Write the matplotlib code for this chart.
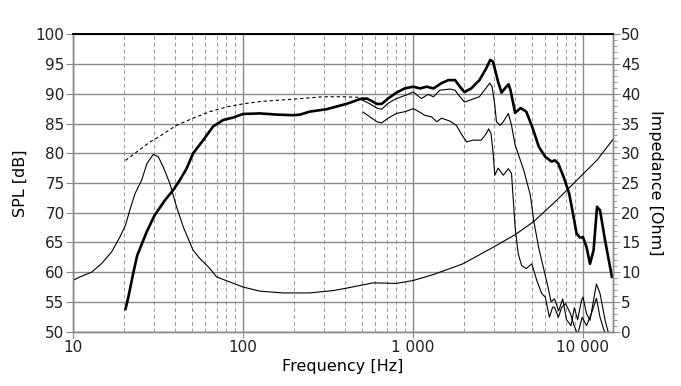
import matplotlib
matplotlib.use("Agg")
import matplotlib.pyplot as plt
from matplotlib.ticker import LogLocator, MultipleLocator, FixedLocator, NullFormatter

# on-axis SPL (thick)
freq_0 = [20.4, 21.2, 22.6, 23.9, 27.1, 30.3, 34.8, 38.9, 42.6, 46.6, 51, 58.4, 66.8, 76.6, 87.7,
          100, 126, 158, 198, 217, 247, 310, 406, 446, 486, 535, 572, 613, 655, 714, 800, 895,
          1005, 1100, 1205, 1320, 1475, 1615, 1770, 1890, 2010, 2200, 2460, 2700, 2850, 2960,
          3170, 3320, 3470, 3650, 3750, 3990, 4300, 4640, 5020, 5500, 6000, 6540, 6830, 7150,
          7700, 8300, 8740, 9170, 9620, 10000, 10500, 11000, 11550, 12100, 12600, 13500, 14800]
spl_0 = [53.8, 55.8, 59.7, 62.8, 66.7, 69.6, 72.1, 73.8, 75.5, 77.4, 80.0, 82.2, 84.5, 85.6, 86.0,
         86.6, 86.7, 86.5, 86.4, 86.5, 87.0, 87.4, 88.3, 88.7, 89.1, 89.2, 88.8, 88.3, 88.3, 89.2,
         90.2, 90.9, 91.2, 90.9, 91.2, 90.9, 91.8, 92.3, 92.3, 91.2, 90.3, 90.9, 92.3, 94.3, 95.7,
         95.4, 92.0, 90.2, 90.9, 91.6, 90.6, 86.8, 87.6, 87.0, 84.5, 81.1, 79.4, 78.6, 78.8, 78.3,
         76.0, 73.2, 69.8, 66.5, 65.8, 65.9, 64.2, 61.4, 63.7, 71.0, 70.4, 65.3, 59.2]

# 30 deg off-axis (thin)
freq_30 = [500, 559, 613, 655, 714, 800, 915, 1005, 1120, 1230, 1320, 1440, 1650, 1770, 1890,
           2010, 2200, 2460, 2680, 2830, 2920, 3030, 3100, 3260, 3400, 3640, 3800, 3990, 4160,
           4500, 4900, 5130, 5500, 5770, 6170, 6500, 6800, 7200, 7600, 8000, 8500, 8900, 9300,
           9800, 10000, 10500, 11000, 12000, 12600, 13500, 14200]
spl_30 = [89.0, 88.3, 87.6, 87.4, 88.4, 89.2, 89.8, 90.3, 89.2, 89.9, 89.5, 90.6, 90.8, 90.6, 89.5,
          88.6, 89.0, 89.5, 90.9, 91.8, 91.2, 88.1, 85.3, 84.7, 85.3, 86.7, 84.7, 81.4, 79.9,
          77.0, 73.0, 68.7, 64.0, 61.5, 58.0, 55.0, 55.5, 53.5, 55.5, 52.0, 51.0, 54.0, 52.0,
          55.2, 55.8, 53.0, 51.9, 58.0, 56.4, 51.9, 49.5]

# 60 deg off-axis (thin)
freq_60 = [510, 560, 613, 655, 714, 800, 900, 1005, 1100, 1170, 1290, 1380, 1475, 1650, 1800,
           1940, 2070, 2250, 2520, 2700, 2790, 2880, 2960, 3030, 3170, 3400, 3640, 3800, 3990,
           4160, 4360, 4640, 5000, 5350, 5720, 6000, 6350, 6630, 6800, 7170, 7500, 7900, 8450,
           8800, 9300, 9900, 10500, 11200, 12000, 12600, 13300, 14000]
spl_60 = [86.9, 86.1, 85.3, 85.1, 85.9, 86.7, 87.0, 87.5, 86.9, 86.4, 86.1, 85.3, 85.9, 85.4, 84.7,
          83.1, 81.9, 82.2, 82.2, 83.3, 84.1, 83.3, 80.2, 76.3, 77.5, 76.3, 77.4, 76.6, 67.6,
          63.1, 61.1, 60.6, 61.4, 58.6, 56.4, 55.8, 52.4, 54.1, 54.1, 52.4, 54.1, 54.7, 53.0,
          51.3, 49.5, 52.4, 51.0, 53.0, 55.6, 52.4, 50.2, 49.0]

# simulated low-frequency response (dashed)
freq_sim = [20.4, 23.7, 28.4, 31, 40.7, 51, 64, 80.3, 100, 126, 198, 295, 390, 486, 520]
spl_sim = [78.8, 80.2, 81.9, 82.5, 84.7, 85.9, 87.0, 87.8, 88.3, 88.7, 89.1, 89.5, 89.5, 89.4, 89.2]

# impedance (right axis)
freq_z = [10, 11, 12.9, 14.7, 16.9, 18.9, 20.4, 21.6, 23.2, 25.4, 27.3, 29.7, 31.8, 34, 37.2,
          40.7, 44.6, 50.9, 55.8, 64, 70, 100, 126, 172, 247, 340, 406, 585, 800, 1005, 1320,
          1970, 2970, 3990, 5130, 7010, 9230, 12060, 15000]
ohm = [8.6, 9.2, 10.0, 11.4, 13.4, 15.9, 17.9, 20.4, 23.2, 25.5, 28.3, 29.8, 29.4, 27.7, 24.9,
       21.0, 17.6, 13.7, 12.3, 10.6, 9.2, 7.5, 6.8, 6.5, 6.5, 6.9, 7.3, 8.2, 8.1, 8.6, 9.6,
       11.4, 14.2, 16.3, 18.5, 22.1, 25.5, 28.8, 32.3]

x_ticks = [10, 100, 1000, 10000]
x_labels = ["10", "100", "1 000", "10 000"]
thick_grid = [3000, 5000, 6000, 7000, 8000, 9000]

GRID = "#8a8a8a"
TXT = "#202020"

plt.rcParams["font.family"] = "DejaVu Sans"

fig = plt.figure(figsize=(6.81, 3.86), dpi=100)
ax = fig.add_axes([0.107, 0.141, 0.793, 0.770])
ax2 = ax.twinx()

ax.set_xscale("log")
ax.set_xlim(10, 15000)
ax.set_ylim(50, 100)
ax2.set_ylim(0, 50)

ax.xaxis.set_major_locator(FixedLocator(x_ticks))
ax.set_xticklabels(x_labels)
ax.xaxis.set_minor_locator(LogLocator(base=10, subs=range(2, 10)))
ax.xaxis.set_minor_formatter(NullFormatter())
ax.yaxis.set_major_locator(MultipleLocator(5))
ax2.yaxis.set_major_locator(MultipleLocator(5))
ax2.yaxis.set_minor_locator(MultipleLocator(1))

ax.grid(True, which="major", axis="both", color=GRID, linewidth=1.0, linestyle="-")
ax.grid(True, which="minor", axis="x", color="#9a9a9a", linewidth=0.7, linestyle=(0, (4, 3)))
ax.set_axisbelow(True)

for t in ax.xaxis.get_minor_ticks():
    loc = t.get_loc()
    if any(abs(loc - g) / g < 0.01 for g in thick_grid):
        t.gridline.set_linewidth(1.6)
        t.gridline.set_color("#858585")

ax.plot(freq_sim, spl_sim, color="black", linewidth=0.8, dashes=(3, 2.5))
ax.plot(freq_60, spl_60, color="black", linewidth=0.8)
ax.plot(freq_30, spl_30, color="black", linewidth=0.8)
ax.plot(freq_0, spl_0, color="black", linewidth=1.9)
ax2.plot(freq_z, ohm, color="black", linewidth=0.8)

for a in (ax, ax2):
    for side in ("left", "right", "bottom"):
        a.spines[side].set_color(GRID)
        a.spines[side].set_linewidth(1.0)
    a.spines["top"].set_color("black")
    a.spines["top"].set_linewidth(1.3)

ax.tick_params(axis="y", which="major", direction="out", length=5, color=GRID,
               labelsize=11, labelcolor=TXT, pad=1)
ax.tick_params(axis="x", which="major", direction="out", length=4, color=GRID,
               labelsize=11, labelcolor=TXT, pad=2)
ax.tick_params(axis="x", which="minor", length=0)
ax2.tick_params(axis="y", which="major", direction="out", length=5, color=GRID,
                labelsize=11, labelcolor=TXT, pad=1)
ax2.tick_params(axis="y", which="minor", direction="out", length=3, color=GRID)

ax.set_xlabel("Frequency [Hz]", fontsize=11.5, color="black", labelpad=3)
ax.set_ylabel("SPL [dB]", fontsize=11.5, color="black", labelpad=6)
ax2.set_ylabel("Impedance [Ohm]", fontsize=11.5, color="black", rotation=270, labelpad=16)

fig.savefig("out.png", dpi=100)
